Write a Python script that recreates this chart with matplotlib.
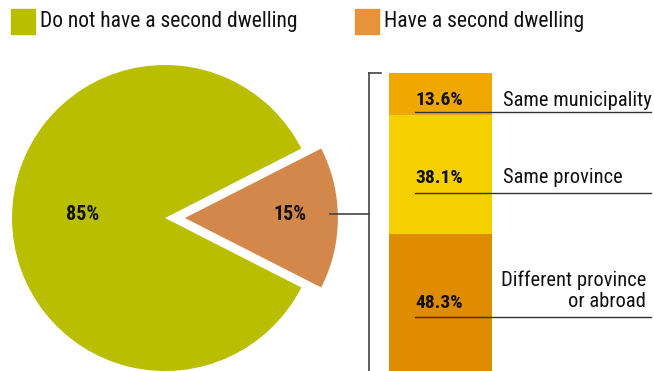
import numpy as np
import matplotlib
matplotlib.use('Agg')
import matplotlib.pyplot as plt
from matplotlib.lines import Line2D
from matplotlib.patches import Rectangle
from matplotlib import font_manager as fm

# data
pie_labels = ['Do not have a second dwelling', 'Have a second dwelling']
pie_values = [85, 15]
pie_colors = ['#B9BE00', '#D4874A']
legend_colors = ['#B9BE00', '#E8923A']

bar_labels = ['Same municipality', 'Same province', 'Different province\nor abroad']
bar_values = [13.6, 38.1, 48.3]
bar_colors = ['#F0A800', '#F5D000', '#E08C00']

W, H = 654, 371

# pick a condensed face if there is one
installed = set(f.name for f in fm.fontManager.ttflist)
font = 'DejaVu Sans'
for cand in ['Roboto Condensed', 'Archivo Narrow', 'PT Sans Narrow',
             'Liberation Sans Narrow', 'Fira Sans Condensed', 'Barlow Condensed']:
    if cand in installed:
        font = cand
        break
plt.rcParams['font.family'] = [font, 'DejaVu Sans']

fig = plt.figure(figsize=(W / 100, H / 100), dpi=100)


def px(x, y):
    # pixel position (from top left) to figure fraction
    return x / W, 1 - y / H


def box(x0, y0, x1, y1):
    return [x0 / W, 1 - y1 / H, (x1 - x0) / W, (y1 - y0) / H]


# pie
cx, cy, r = 165, 218, 153
ax = fig.add_axes(box(cx - r, cy - r, cx + r, cy + r))
wedges, _ = ax.pie(pie_values, colors=pie_colors, startangle=27,
                   explode=[0, 0.13], radius=1,
                   wedgeprops=dict(linewidth=0))
ax.set_xlim(-1, 1)
ax.set_ylim(-1, 1)
ax.set_aspect('equal')
ax.axis('off')
for w, v, d in zip(wedges, pie_values, [0.54, 0.82]):
    ang = np.deg2rad((w.theta1 + w.theta2) / 2)
    ax.text(d * np.cos(ang), d * np.sin(ang) + 0.02, f'{v}%', ha='center',
            va='center', fontsize=14.5, fontweight='bold', color='#111111')

# stacked bar
bx = fig.add_axes(box(389, 73, 492, 385))
bottom = 0
stack = list(zip(bar_values, bar_colors))[::-1]
for v, c in stack:
    bx.bar(0, v, bottom=bottom, width=1, color=c, linewidth=0)
    bottom += v
bx.set_xlim(-0.5, 0.5)
bx.set_ylim(0, 100)
bx.axis('off')

# labels beside the bar
pct_y = [100, 178, 303]
line_y = [112, 193, 317]
for v, lab, ty, ly in zip(bar_values, bar_labels, pct_y, line_y):
    fig.text(*px(415, ty), f'{v}%', ha='left', va='center', fontsize=14,
             fontweight='bold', color='#111111')
    fig.add_artist(Line2D([415 / W, 651 / W], [1 - ly / H] * 2,
                          color='#333333', lw=1))
    if '\n' in lab:
        fig.text(*px(646, ty - 12), lab, ha='right', va='center', fontsize=14.8,
                 color='#111111', linespacing=1.15)
    else:
        fig.text(*px(503, ty), lab, ha='left', va='center', fontsize=14.8,
                 color='#111111')

# bracket and connector
fig.add_artist(Line2D([369 / W, 369 / W], [1 - 73 / H, 0], color='#444444', lw=1.2))
fig.add_artist(Line2D([369 / W, 381 / W], [1 - 73 / H] * 2, color='#444444', lw=1.2))
fig.add_artist(Line2D([330 / W, 369 / W], [1 - 214 / H] * 2, color='#444444', lw=1.2))

# legend
for lab, c, x0 in zip(pie_labels, legend_colors, [11, 355]):
    fig.add_artist(Rectangle(px(x0, 34), 24 / W, 25 / H, color=c,
                             transform=fig.transFigure))
    fig.text(*px(x0 + 29, 22), lab, ha='left', va='center', fontsize=15.5,
             color='#111111')

fig.savefig('out.png', dpi=100)
